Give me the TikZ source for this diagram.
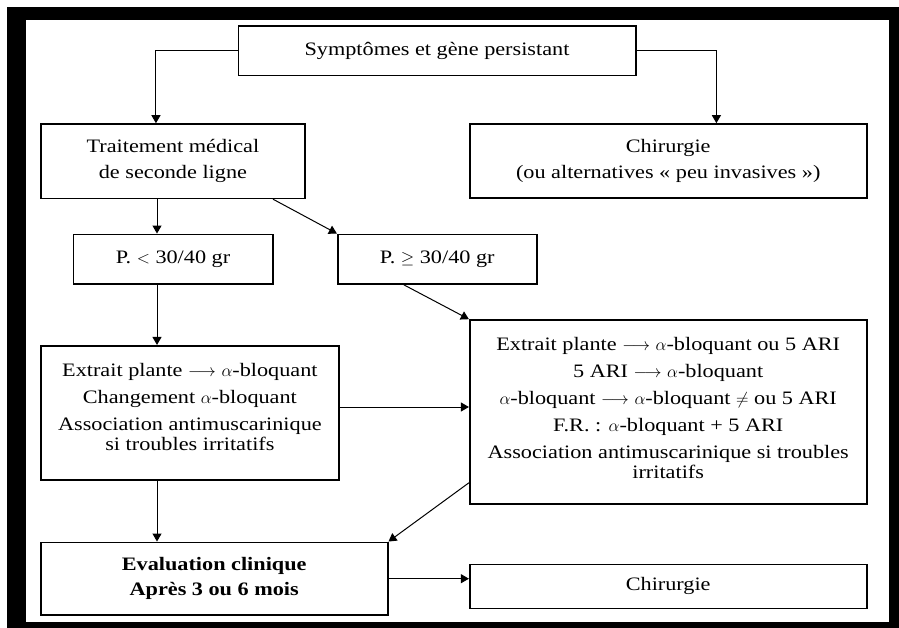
\documentclass[tikz,border=0pt]{standalone}
\usepackage{fontspec}
\setmainfont{Liberation Serif}[FakeStretch=1.17]
\usetikzlibrary{arrows.meta}
\newcommand\dfont{\fontsize{19}{20}\selectfont}
\begin{document}
\begin{tikzpicture}[x=1pt,y=-1pt,
  box/.style={draw=black, line width=1.6pt, rectangle, inner sep=0pt, align=center, font=\dfont},
  txt/.style={align=center, inner sep=0pt, font=\dfont},
  arr/.style={line width=1pt, -{Triangle[length=8pt,width=9pt]}}]
\useasboundingbox (0,0) rectangle (899,628);
\fill[white] (0,0) rectangle (899,628);
\fill[black] (7,7) rectangle (899,628);
\fill[white] (26,20) rectangle (889,622);

\node[box, minimum width=397.4pt, minimum height=49.3pt] (top) at (437,50.7) {Symptômes et gène persistant};
\node[box, minimum width=264.3pt, minimum height=74.3pt] (trait) at (172.9,161.2) {Traitement médical\\[6pt]de seconde ligne};
\node[box, minimum width=397pt, minimum height=74pt] (chir) at (668.2,161) {Chirurgie\\[6pt](ou alternatives «~peu invasives~»)};
\node[box, minimum width=199.4pt, minimum height=49.7pt] (plt) at (173,259.2) {P. $<$ 30/40 gr};
\node[box, minimum width=199pt, minimum height=49.7pt] (pge) at (437.2,259.2) {P. $\geq$ 30/40 gr};

\node[box, minimum width=298.3pt, minimum height=134.3pt] (lm) at (189.9,412.9) {};
\node[txt] (lmt) at ([yshift=6pt]lm.center) {Extrait plante $\longrightarrow$ $\alpha$-bloquant\\[7pt]Changement $\alpha$-bloquant\\[7pt]Association antimuscarinique\\si troubles irritatifs};

\node[box, minimum width=397pt, minimum height=184pt] (rbig) at (668.2,412) {};
\node[txt] (rbt) at ([yshift=4pt]rbig.center) {Extrait plante $\longrightarrow$ $\alpha$-bloquant ou 5 ARI\\[7pt]5 ARI $\longrightarrow$ $\alpha$-bloquant\\[7pt]$\alpha$-bloquant $\longrightarrow$ $\alpha$-bloquant $\neq$ ou 5 ARI\\[7pt]F.R. : $\alpha$-bloquant + 5 ARI\\[7pt]Association antimuscarinique si troubles\\irritatifs};

\node[box, minimum width=347pt, minimum height=72.7pt, font=\dfont\bfseries] (eval) at (214.2,578.7) {Evaluation clinique\\[5pt]Après 3 ou 6 mois};
\node[box, minimum width=397pt, minimum height=44pt] (chir2) at (668.2,586.3) {Chirurgie};

\coordinate (cx) at (157,0);
\coordinate (cy) at (0,407);
\draw[arr] (top.west) -| ([xshift=116pt]trait.north west);
\draw[arr] (top.east) -| ([xshift=247.5pt]chir.north west);
\draw[arr] (trait.south -| cx) -- (plt.north -| cx);
\draw[arr] ([xshift=233pt]trait.south west) -- (pge.north west);
\draw[arr] ([xshift=67pt]pge.south west) -- (rbig.north west);
\draw[arr] (plt.south -| cx) -- (lm.north -| cx);
\draw[arr] (lm.east |- cy) -- (rbig.west |- cy);
\draw[arr] ([yshift=22pt]rbig.south west) -- (eval.north east);
\draw[arr] (lm.south -| cx) -- (eval.north -| cx);
\draw[arr] (eval.east) -- (eval.east -| chir2.west);
\end{tikzpicture}
\end{document}
